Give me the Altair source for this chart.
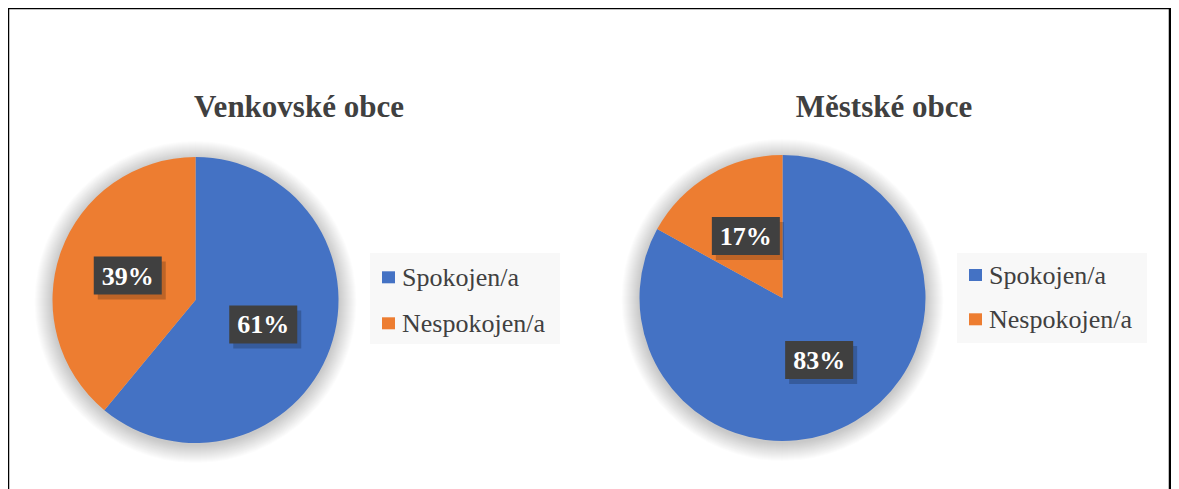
import altair as alt
import pandas as pd

# ---- data ----
categories = ["Spokojen/a", "Nespokojen/a"]
panel_titles = ["Venkovské obce", "Městské obce"]
venkov_values = [61, 39]
mesto_values = [83, 17]
colors = ["#4472C4", "#ED7D31"]

# ---- layout / style ----
W, H = 1163, 481
R = 143
LABEL_R = 72
BOX_W, BOX_H = 68, 38
TEXT_COLOR = "#404040"
SERIF = "Liberation Serif"

color_scale = alt.Scale(domain=categories, range=colors)
dummy = pd.DataFrame({"a": [0]})


def pie_panel(values, title, cx, cy, tx, leg_bg, sw_x, sw_y, sw_gap, txt_x):
    df = pd.DataFrame({"cat": categories, "value": values, "ord": list(range(len(categories)))})

    # soft glow shadow around pie (concentric translucent discs)
    shadows = [
        alt.Chart(dummy).mark_arc(
            theta=0, theta2=6.2832, outerRadius=R + k, fill="#000000", opacity=0.011
        ).encode(x=alt.value(cx), y=alt.value(cy + 2))
        for k in range(1, 19)
    ]

    pie = alt.Chart(df).mark_arc(outerRadius=R).encode(
        x=alt.value(cx), y=alt.value(cy),
        theta=alt.Theta("value:Q", stack=True),
        color=alt.Color("cat:N", scale=color_scale, legend=None),
        order=alt.Order("ord:Q", sort="ascending"),
    )

    lab_base = alt.Chart(df).transform_joinaggregate(
        total="sum(value)"
    ).transform_window(
        cum="sum(value)", sort=[alt.SortField("ord")]
    ).transform_calculate(
        mid="(datum.cum - datum.value/2) / datum.total * 2 * PI",
    ).transform_calculate(
        lx=f"{cx} + {LABEL_R} * sin(datum.mid)",
        ly=f"{cy} - {LABEL_R} * cos(datum.mid)",
        lbl="datum.value + '%'",
    ).transform_calculate(
        bx1=f"datum.lx - {BOX_W/2}", bx2=f"datum.lx + {BOX_W/2}",
        by1=f"datum.ly - {BOX_H/2}", by2=f"datum.ly + {BOX_H/2}",
        sx1=f"datum.lx - {BOX_W/2} + 4", sx2=f"datum.lx + {BOX_W/2} + 4",
        sy1=f"datum.ly - {BOX_H/2} + 5", sy2=f"datum.ly + {BOX_H/2} + 5",
    )

    box_shadow = lab_base.mark_rect(fill="#000000", opacity=0.2).encode(
        x=alt.X("sx1:Q", scale=None, axis=None), x2="sx2:Q",
        y=alt.Y("sy1:Q", scale=None, axis=None), y2="sy2:Q",
    )
    box = lab_base.mark_rect(fill="#404040").encode(
        x=alt.X("bx1:Q", scale=None, axis=None), x2="bx2:Q",
        y=alt.Y("by1:Q", scale=None, axis=None), y2="by2:Q",
    )
    text = lab_base.mark_text(
        font=SERIF, fontSize=26, fontWeight="bold", color="white",
        align="center", baseline="middle", dy=1,
    ).encode(
        x=alt.X("lx:Q", scale=None, axis=None),
        y=alt.Y("ly:Q", scale=None, axis=None),
        text="lbl:N",
    )

    ttl = alt.Chart(pd.DataFrame({"t": [title]})).mark_text(
        font=SERIF, fontSize=31, fontWeight="bold", color=TEXT_COLOR,
        align="center", baseline="alphabetic",
    ).encode(x=alt.value(tx), y=alt.value(109), text="t:N")

    bg = alt.Chart(dummy).mark_rect(fill="#f8f8f8").encode(
        x=alt.value(leg_bg[0]), x2=alt.value(leg_bg[1]),
        y=alt.value(leg_bg[2]), y2=alt.value(leg_bg[3]),
    )

    leg_base = alt.Chart(df).transform_calculate(
        y1=f"{sw_y} + datum.ord * {sw_gap}",
        y2=f"{sw_y} + datum.ord * {sw_gap} + 12",
        yt=f"{sw_y} + datum.ord * {sw_gap} + 14.5",
    )
    sw = leg_base.mark_rect().encode(
        x=alt.value(sw_x), x2=alt.value(sw_x + 13),
        y=alt.Y("y1:Q", scale=None, axis=None), y2="y2:Q",
        color=alt.Color("cat:N", scale=color_scale, legend=None),
    )
    lt = leg_base.mark_text(
        font=SERIF, fontSize=26, color=TEXT_COLOR, align="left", baseline="alphabetic",
    ).encode(
        x=alt.value(txt_x),
        y=alt.Y("yt:Q", scale=None, axis=None),
        text="cat:N",
    )

    return shadows + [pie, box_shadow, box, text, ttl, bg, sw, lt]


left = pie_panel(venkov_values, panel_titles[0], 187.5, 292, 291,
                 (362, 552, 245, 336), 374, 263.3, 46, 394)
right = pie_panel(mesto_values, panel_titles[1], 774.5, 290, 876,
                  (949, 1139, 245, 335), 961, 261, 44.3, 981)

border = alt.Chart(dummy).mark_rect(
    filled=False, stroke="#000000", strokeWidth=2.5
).encode(
    x=alt.value(0), x2=alt.value(W - 1), y=alt.value(0), y2=alt.value(H + 20)
)

chart = alt.layer(*left, *right, border).properties(
    width=W, height=H, padding=0,
    autosize=alt.AutoSizeParams(type="none"),
).configure_view(stroke=None).configure(background="white")

chart.save("out.html", embed_options={"renderer": "svg", "actions": False})
